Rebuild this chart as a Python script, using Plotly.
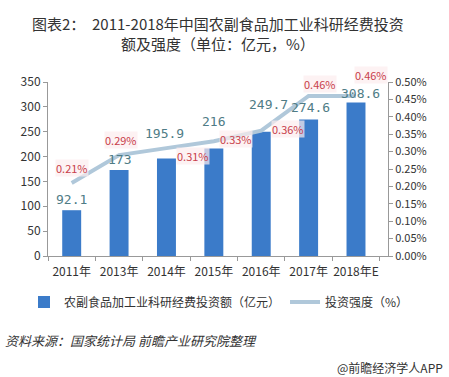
import plotly.graph_objects as go

years = ["2011年", "2013年", "2014年", "2015年", "2016年", "2017年", "2018年E"]
invest = [92.1, 173, 195.9, 216, 249.7, 274.6, 308.6]
intensity = [0.21, 0.29, 0.31, 0.33, 0.36, 0.46, 0.46]
invest_labels = ["92.1", "173", "195.9", "216", "249.7", "274.6", "308.6"]
intensity_labels = ["0.21%", "0.29%", "0.31%", "0.33%", "0.36%", "0.46%", "0.46%"]

# label offsets (pixels) for annotation placement
bar_lbl_dy = [7, 7, 22, 24, 24, 8, 6]
bar_lbl_dx = [0, 0, -2, 0, 7, 2, 4]
pct_dx = [0, 2, 27, 22, 27, 11, 15]
pct_dy = [15, 15, -8, 2, 2, 12, 21]

fig = go.Figure()
fig.add_trace(go.Bar(
    x=years, y=invest, name="农副食品加工业科研经费投资额（亿元）",
    marker=dict(color="#3b7bc9", line=dict(width=0)), width=0.4,
))
fig.add_trace(go.Scatter(
    x=years, y=intensity, name="投资强度（%）", yaxis="y2", mode="lines",
    line=dict(color="#b0c8da", width=4),
))

ann = []
for i, y in enumerate(years):
    ann.append(dict(x=y, y=invest[i], xref="x", yref="y", text=invest_labels[i],
                    showarrow=False, yanchor="bottom", xshift=bar_lbl_dx[i], yshift=bar_lbl_dy[i] - 6,
                    font=dict(family="DejaVu Sans Mono", size=13, color="#4f7c86")))
    ann.append(dict(x=y, y=intensity[i], xref="x", yref="y2", text=intensity_labels[i],
                    showarrow=False, xshift=pct_dx[i], yshift=pct_dy[i],
                    bgcolor="rgba(252,236,238,0.7)", borderpad=0,
                    font=dict(family="Noto Sans CJK SC", size=11, color="#c8404a")))

ann.append(dict(x=0.5, y=1 + 48/174, xref="paper", yref="paper", xanchor="center", yanchor="middle",
                showarrow=False, align="center",
                text="图表2：  2011-2018年中国农副食品加工业科研经费投资<br>额及强度（单位：亿元，%）",
                font=dict(family="Noto Sans CJK SC", size=15, color="#333333")))
ann.append(dict(x=-45/340, y=-84/174, xref="paper", yref="paper", xanchor="left", yanchor="middle",
                showarrow=False, text="<i>资料来源：国家统计局 前瞻产业研究院整理</i>",
                font=dict(family="Noto Sans CJK SC", size=13, color="#333333")))
ann.append(dict(x=1 + 57/340, y=-111/174, xref="paper", yref="paper", xanchor="right", yanchor="middle",
                showarrow=False, text="@前瞻经济学人APP",
                font=dict(family="Noto Sans CJK SC", size=12, color="#333333")))
fig.update_layout(annotations=ann)

left_font = dict(family="Noto Sans CJK SC", size=12, color="#333333")
right_font = dict(family="Noto Sans CJK SC", size=11, color="#333333")
fig.update_layout(
    width=449, height=377,
    margin=dict(l=48, r=61, t=82, b=121, autoexpand=False),
    paper_bgcolor="white", plot_bgcolor="white",
    showlegend=True,
    legend=dict(orientation="h", x=-24/340, xanchor="left", y=-46/174, yanchor="middle",
                font=dict(family="Noto Sans CJK SC", size=12, color="#333333"),
                itemwidth=30),
    xaxis=dict(type="category", showline=True, linecolor="#999999", ticks="outside",
               tickson="boundaries", ticklen=4, tickcolor="#999999", tickfont=left_font,
               ticklabelstandoff=5, tickangle=0, showgrid=False, automargin=False),
    yaxis=dict(range=[0, 350], dtick=50, showline=True, linecolor="#999999", ticks="outside",
               ticklen=4, tickcolor="#999999", tickfont=left_font, showgrid=False, zeroline=False,
               automargin=False),
    yaxis2=dict(range=[0, 0.5], dtick=0.05, overlaying="y", side="right", showline=True,
                linecolor="#999999", ticks="outside", ticklen=4, tickcolor="#999999",
                tickformat=".2f", ticksuffix="%", tickfont=right_font, showgrid=False, zeroline=False,
                automargin=False),
)

fig.write_html("out.html", config={"displayModeBar": False},
               post_script="document.body.style.margin='0';document.body.style.padding='0';")
